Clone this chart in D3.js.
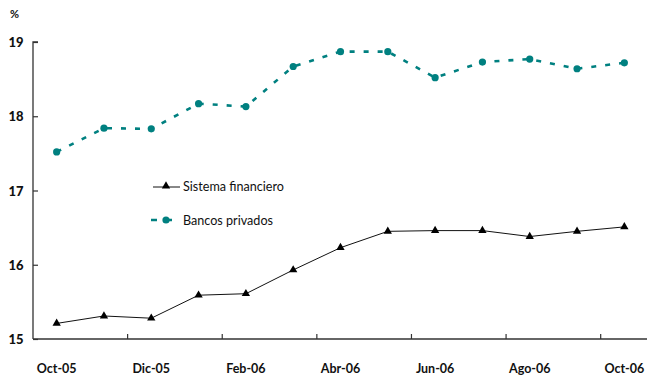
<!DOCTYPE html>
<html>
<head>
<meta charset="utf-8">
<script src="https://cdn.jsdelivr.net/npm/d3@7"></script>
<style>
  html, body { margin: 0; padding: 0; background: #fff; }
  svg { display: block; }
</style>
</head>
<body>
<svg id="chart" width="647" height="377"></svg>
<script>
const categories = ["Oct-05","Nov-05","Dic-05","Ene-06","Feb-06","Mar-06","Abr-06","May-06","Jun-06","Jul-06","Ago-06","Sep-06","Oct-06"];
const sistemaFinanciero = [15.21,15.31,15.28,15.59,15.61,15.93,16.23,16.45,16.46,16.46,16.38,16.45,16.51];
const bancosPrivados = [17.52,17.84,17.83,18.17,18.13,18.67,18.87,18.87,18.52,18.73,18.77,18.64,18.72];
const yTicks = [15,16,17,18,19];
const xLabels = ["Oct-05","Dic-05","Feb-06","Abr-06","Jun-06","Ago-06","Oct-06"];
const seriesNames = ["Sistema financiero","Bancos privados"];

(function () {
const svg = d3.select("#chart");
const mLeft = 33, mRight = 648, mTop = 42, mBottom = 339;
const teal = "#008080";

const x = d3.scaleBand().domain(categories).range([mLeft, mRight]).padding(0);
const y = d3.scaleLinear().domain([15, 19]).range([mBottom, mTop]);
const cx = d => x(d) + x.bandwidth() / 2;

// Y axis
const yAxis = d3.axisRight(y).tickValues(yTicks).tickSize(5).tickFormat("");
const gy = svg.append("g").attr("transform", `translate(${mLeft},0)`).call(yAxis);
gy.select(".domain").attr("stroke", "#333").attr("stroke-width", 1.3).attr("d", `M5,${mTop}H0V${mBottom}`);
gy.selectAll(".tick line").attr("stroke", "#333").attr("stroke-width", 1.2);

svg.append("g").selectAll("text").data(yTicks).join("text")
  .attr("x", 16).attr("y", d => y(d) + 5)
  .attr("text-anchor", "middle")
  .attr("font-family", "Lato, sans-serif").attr("font-weight", 900).attr("font-size", 13)
  .attr("fill", "#111").text(d => d);

svg.append("text").attr("x", 10).attr("y", 18)
  .attr("font-family", "Lato, sans-serif").attr("font-weight", "bold").attr("font-size", 11)
  .attr("fill", "#111").text("%");

// X axis (ticks at every other category boundary, pointing up)
const boundaryIdx = [2,4,6,8,10,12];
const gx = svg.append("g");
gx.append("line").attr("x1", mLeft).attr("x2", mRight).attr("y1", mBottom).attr("y2", mBottom)
  .attr("stroke", "#333").attr("stroke-width", 1.3);
gx.selectAll("line.t").data(boundaryIdx).join("line").attr("class", "t")
  .attr("x1", i => x(categories[i])).attr("x2", i => x(categories[i]))
  .attr("y1", mBottom).attr("y2", mBottom - 5)
  .attr("stroke", "#333").attr("stroke-width", 1.2);

gx.selectAll("text").data(xLabels).join("text")
  .attr("x", d => cx(d)).attr("y", 373)
  .attr("text-anchor", "middle")
  .attr("font-family", "Lato, sans-serif").attr("font-weight", "bold").attr("font-size", 12.5)
  .attr("fill", "#111").text(d => d);

const line = d3.line().x((d, i) => cx(categories[i])).y(d => y(d));

// Bancos privados (teal dashed with circles)
svg.append("path").datum(bancosPrivados).attr("d", line)
  .attr("fill", "none").attr("stroke", teal).attr("stroke-width", 2.6)
  .attr("stroke-dasharray", "5,9");
svg.append("g").selectAll("circle").data(bancosPrivados).join("circle")
  .attr("cx", (d, i) => cx(categories[i])).attr("cy", d => y(d)).attr("r", 3.6)
  .attr("fill", teal);

// Sistema financiero (black line with triangles)
svg.append("path").datum(sistemaFinanciero).attr("d", line)
  .attr("fill", "none").attr("stroke", "#111").attr("stroke-width", 1);
const tri = d3.symbol().type(d3.symbolTriangle).size(30);
svg.append("g").selectAll("path").data(sistemaFinanciero).join("path")
  .attr("d", tri)
  .attr("transform", (d, i) => `translate(${cx(categories[i])},${y(d)})`)
  .attr("fill", "#000");

// Legend
const lg = svg.append("g");
lg.append("line").attr("x1", 153).attr("x2", 180).attr("y1", 187).attr("y2", 187)
  .attr("stroke", "#111").attr("stroke-width", 1);
lg.append("path").attr("d", tri).attr("transform", "translate(166,186)").attr("fill", "#000");
lg.append("text").attr("x", 183).attr("y", 191)
  .attr("font-family", "Lato, sans-serif").attr("font-size", 12.6).attr("fill", "#111")
  .text(seriesNames[0]);

lg.append("line").attr("x1", 151).attr("x2", 180).attr("y1", 220).attr("y2", 220)
  .attr("stroke", teal).attr("stroke-width", 2.6).attr("stroke-dasharray", "6,9");
lg.append("circle").attr("cx", 166).attr("cy", 220).attr("r", 3.6).attr("fill", teal);
lg.append("text").attr("x", 183).attr("y", 225)
  .attr("font-family", "Lato, sans-serif").attr("font-size", 12.6).attr("fill", "#111")
  .text(seriesNames[1]);
})();
</script>
</body>
</html>
